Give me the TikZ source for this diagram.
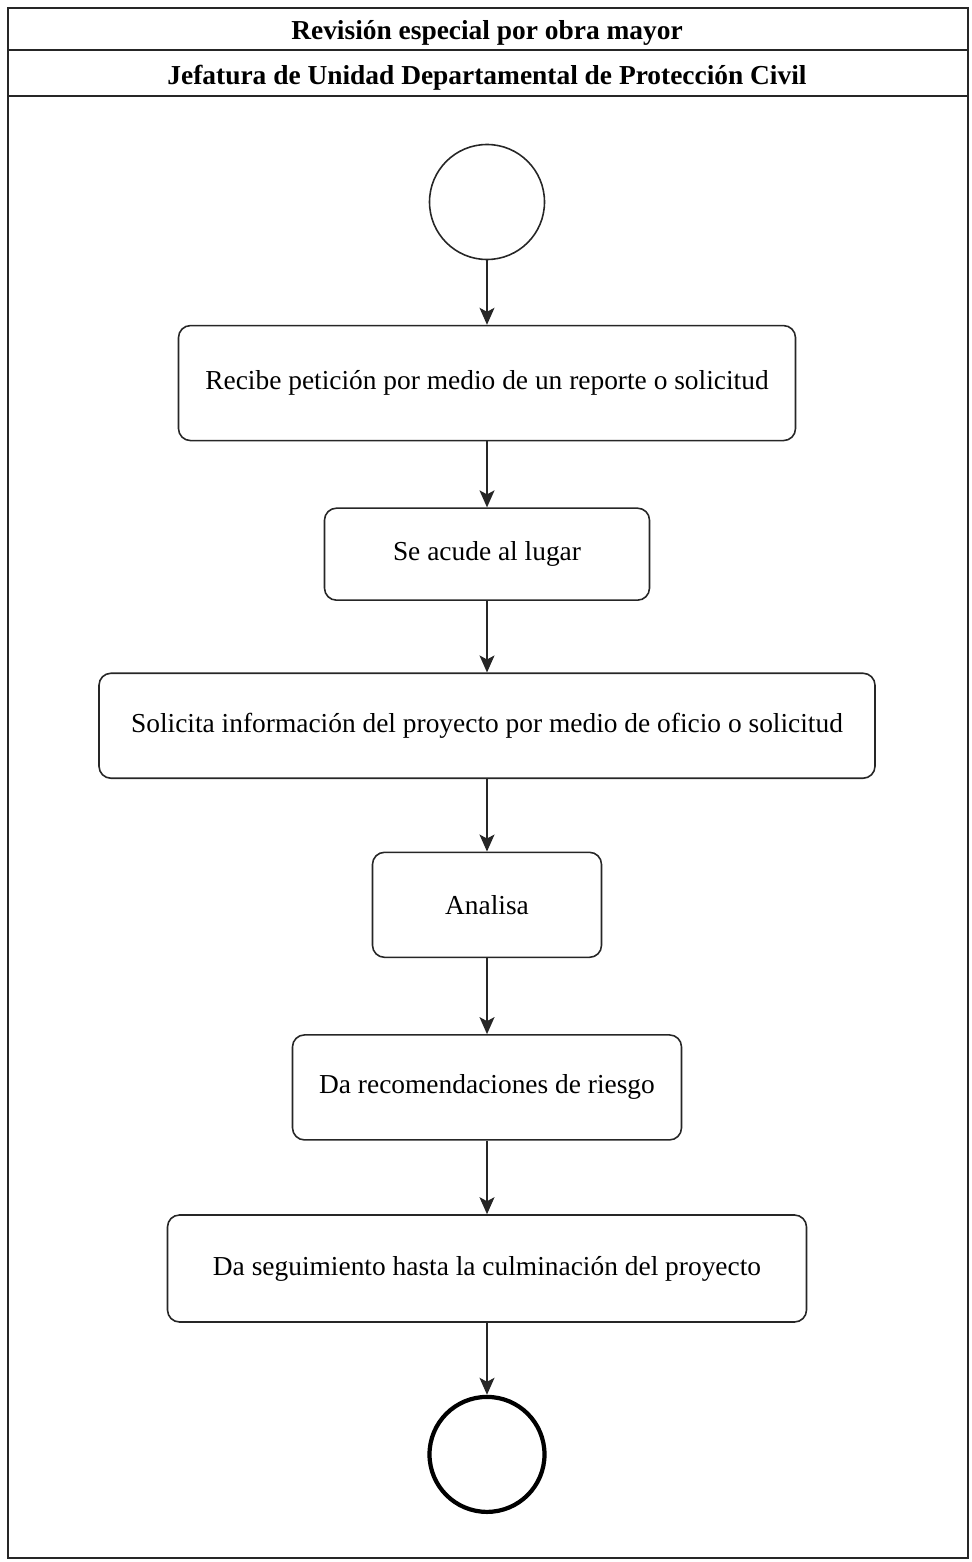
\documentclass[tikz,border=0pt]{standalone}
\usepackage{fontspec}
\setmainfont{Liberation Serif}
\usetikzlibrary{positioning,arrows.meta}

\begin{document}
\begin{tikzpicture}[
        node distance=1.45cm,
        activity/.style={
            draw=black!85,
            rounded corners=0.24cm,
            line width=0.9pt,
            minimum height=2.1cm,
            align=center,
            font=\fontsize{15.6}{18}\selectfont
        },
        startnode/.style={
            draw=black!85,
            circle,
            line width=0.9pt,
            minimum size=2.3cm
        },
        endnode/.style={
            startnode,
            draw=black,
            line width=2.4pt
        },
        flow/.style={
            draw=black!85,
            line width=0.9pt,
            -{Stealth[length=0.34cm,width=0.3cm,inset=0.08cm]}
        },
        header/.style={
            font=\bfseries\fontsize{15.6}{18}\selectfont
        }
    ]
        \useasboundingbox (0,0) rectangle (19.42,-31.24);
        \draw[line width=0.9pt, draw=black!85] (0.16,-0.16) rectangle (19.36,-31.16);
        \draw[line width=0.9pt, draw=black!85] (0.16,-1.0) -- (19.36,-1.0);
        \draw[line width=0.9pt, draw=black!85] (0.16,-1.92) -- (19.36,-1.92);
        \node[header] (titulo) at (9.74,-0.66) {Revisión especial por obra mayor};
        \node[header] (carril) at (9.74,-1.55) {Jefatura de Unidad Departamental de Protección Civil};

        \node[startnode] (inicio) at (9.74,-4.04) {};
        \node[activity, minimum width=12.34cm, minimum height=2.3cm, below=1.29cm of inicio] (recibe) {Recibe petición por medio de un reporte o solicitud};
        \node[activity, minimum width=6.5cm, minimum height=1.84cm, below=1.32cm of recibe] (acude) {Se acude al lugar};
        \node[activity, minimum width=15.52cm, below=1.43cm of acude] (solicita) {Solicita información del proyecto por medio de oficio o solicitud};
        \node[activity, minimum width=4.58cm, below=1.45cm of solicita] (analisa) {Analisa};
        \node[activity, minimum width=7.78cm, below=1.52cm of analisa] (recomienda) {Da recomendaciones de riesgo};
        \node[activity, minimum width=12.78cm, minimum height=2.14cm, below=1.47cm of recomienda] (seguimiento) {Da seguimiento hasta la culminación del proyecto};
        \node[endnode, below=1.44cm of seguimiento] (fin) {};

        \draw[flow] (inicio) -- (recibe);
        \draw[flow] (recibe) -- (acude);
        \draw[flow] (acude) -- (solicita);
        \draw[flow] (solicita) -- (analisa);
        \draw[flow] (analisa) -- (recomienda);
        \draw[flow] (recomienda) -- (seguimiento);
        \draw[flow] (seguimiento) -- (fin);
    \end{tikzpicture}
\end{document}
